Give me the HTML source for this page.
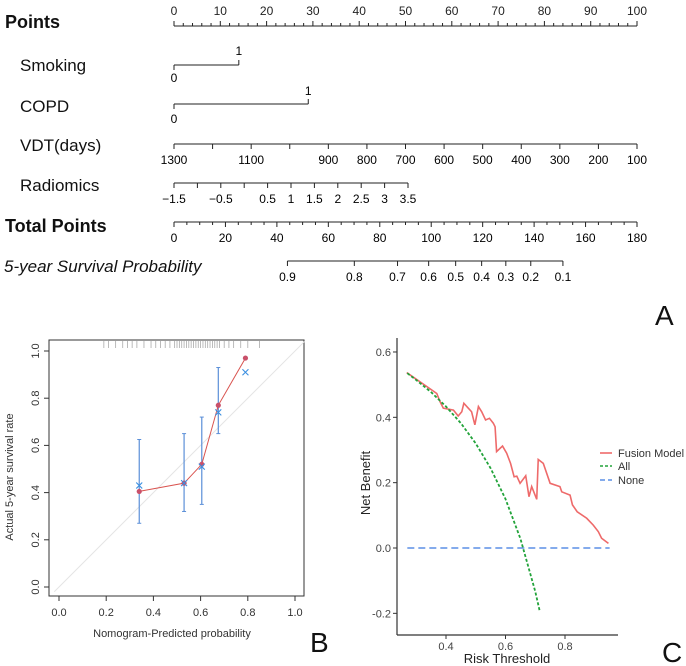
<!DOCTYPE html>
<html><head><meta charset="utf-8"><style>
html,body{margin:0;padding:0;background:#fff;}
svg{display:block;font-family:"Liberation Sans",sans-serif;}
</style></head><body>
<svg id="fig" width="686" height="666" viewBox="0 0 686 666"></svg>
<script>
// ---------- Nomogram data ----------
const pointsTicks=[0,10,20,30,40,50,60,70,80,90,100];
const smokingPts=[0,14];
const copdPts=[0,29];
const vdtLabels=[1300,1100,900,800,700,600,500,400,300,200,100];
const vdtTicks=[1300,1200,1100,1000,900,800,700,600,500,400,300,200,100];
const radTicks=[-1.5,-1,-0.5,0,0.5,1,1.5,2,2.5,3,3.5];
const radLabels=[-1.5,-0.5,0.5,1,1.5,2,2.5,3,3.5];
const totalTicks=[0,20,40,60,80,100,120,140,160,180];
const survProb=[0.9,0.8,0.7,0.6,0.5,0.4,0.3,0.2,0.1];
const survTotal=[44.1,70.1,86.9,99,109.5,119.6,129,138.7,151.2];
// ---------- Calibration data ----------
const calPred=[0.34,0.53,0.605,0.675,0.79];
const calApparent=[0.405,0.44,0.52,0.77,0.97];
const calBias=[0.43,0.44,0.51,0.74,0.91];
const calLow=[0.27,0.32,0.35,0.65];
const calHigh=[0.625,0.65,0.72,0.93];
const rugVals=[0.19,0.21,0.24,0.27,0.29,0.31,0.33,0.36,0.39,0.41,0.43,0.45,0.47,0.49,0.5,0.51,0.52,0.53,0.54,0.55,0.56,0.57,0.58,0.59,0.6,0.61,0.62,0.63,0.64,0.65,0.66,0.67,0.68,0.7,0.72,0.74,0.77,0.8,0.85];
const calTicks=[0,0.2,0.4,0.6,0.8,1.0];
// ---------- DCA data ----------
const fusT=[0.268,0.369,0.380,0.391,0.425,0.441,0.453,0.460,0.475,0.486,0.497,0.509,0.520,0.533,0.546,0.559,0.565,0.570,0.590,0.604,0.617,0.629,0.638,0.649,0.668,0.679,0.688,0.705,0.710,0.727,0.750,0.783,0.789,0.817,0.825,0.841,0.873,0.895,0.912,0.923,0.946];
const fusNB=[0.537,0.473,0.448,0.428,0.422,0.404,0.417,0.443,0.428,0.417,0.377,0.433,0.417,0.392,0.397,0.382,0.371,0.295,0.312,0.290,0.259,0.218,0.220,0.198,0.221,0.157,0.188,0.149,0.271,0.259,0.198,0.188,0.172,0.162,0.132,0.111,0.091,0.070,0.050,0.030,0.014];
const allT=[0.27,0.3,0.35,0.4,0.45,0.5,0.55,0.6,0.65,0.7,0.715];
const allNB=[0.535,0.514,0.477,0.433,0.382,0.32,0.244,0.15,0.029,-0.133,-0.193];
const noneT=[0.27,0.95];
const noneNB=[0,0];
const dcaYTicks=[-0.2,0,0.2,0.4,0.6];
const dcaXTicks=[0.4,0.6,0.8];

const NS="http://www.w3.org/2000/svg";
const svg=document.getElementById('fig');
function mk(tag,attrs,parent){const e=document.createElementNS(NS,tag);for(const k in attrs)e.setAttribute(k,attrs[k]);(parent||svg).appendChild(e);return e;}
function txt(s,x,y,attrs,parent){const e=mk('text',Object.assign({x:x,y:y},attrs||{}),parent);e.textContent=s;return e;}

// ---------- Nomogram ----------
const nomo=mk('g',{});


const px=p=>174+p*4.63;
const tpx=t=>174+t/180*463;
const vdtx=v=>174+(1300-v)/1200*463;
const radx=r=>174+(r+1.5)/5*234;
const ln={stroke:'#222','stroke-width':1,fill:'none'};
function rowLabel(s,x,y,name,extra){const e=txt(s,x,y,Object.assign({'font-size':17,fill:'#111'},extra||{}),nomo);return e;}
rowLabel('Points',5,28,'points-label',{'font-weight':'bold','font-size':18});
mk('line',Object.assign({x1:px(0),x2:px(100),y1:26,y2:26},ln),nomo);
for(let p=0;p<=100;p+=2){mk('line',Object.assign({x1:px(p),x2:px(p),y1:26,y2:p%10===0?21:23},ln),nomo);}
pointsTicks.forEach(p=>{const t=txt(p,px(p),15,{'font-size':12,'text-anchor':'middle',fill:'#222'},nomo);});
rowLabel('Smoking',20,71,'smoking-label');
mk('line',Object.assign({x1:px(smokingPts[0]),x2:px(smokingPts[1]),y1:65,y2:65},ln),nomo);
mk('line',Object.assign({x1:px(smokingPts[0]),x2:px(smokingPts[0]),y1:65,y2:70},ln),nomo);
mk('line',Object.assign({x1:px(smokingPts[1]),x2:px(smokingPts[1]),y1:65,y2:60},ln),nomo);
txt('1',px(smokingPts[1]),55,{'font-size':12,'text-anchor':'middle'},nomo);
txt('0',px(smokingPts[0]),82,{'font-size':12,'text-anchor':'middle'},nomo);
rowLabel('COPD',20,112,'copd-label');
mk('line',Object.assign({x1:px(copdPts[0]),x2:px(copdPts[1]),y1:104,y2:104},ln),nomo);
mk('line',Object.assign({x1:px(copdPts[0]),x2:px(copdPts[0]),y1:104,y2:109},ln),nomo);
mk('line',Object.assign({x1:px(copdPts[1]),x2:px(copdPts[1]),y1:104,y2:99},ln),nomo);
txt('1',px(copdPts[1]),95,{'font-size':12,'text-anchor':'middle'},nomo);
txt('0',px(copdPts[0]),123,{'font-size':12,'text-anchor':'middle'},nomo);
rowLabel('VDT(days)',20,151,'vdt-label');
mk('line',Object.assign({x1:vdtx(1300),x2:vdtx(100),y1:144,y2:144},ln),nomo);
vdtTicks.forEach(v=>mk('line',Object.assign({x1:vdtx(v),x2:vdtx(v),y1:144,y2:149},ln),nomo));
vdtLabels.forEach(v=>txt(v,vdtx(v),164,{'font-size':12,'text-anchor':'middle'},nomo));
rowLabel('Radiomics',20,191,'radiomics-label');
mk('line',Object.assign({x1:radx(-1.5),x2:radx(3.5),y1:183,y2:183},ln),nomo);
radTicks.forEach(r=>mk('line',Object.assign({x1:radx(r),x2:radx(r),y1:183,y2:188},ln),nomo));
radLabels.forEach(r=>txt(r<0?'\u2212'+Math.abs(r):String(r),radx(r),203,{'font-size':12,'text-anchor':'middle'},nomo));
rowLabel('Total Points',5,232,'total-points-label',{'font-weight':'bold','font-size':18});
mk('line',Object.assign({x1:tpx(0),x2:tpx(180),y1:222,y2:222},ln),nomo);
for(let t=0;t<=180;t+=5){mk('line',Object.assign({x1:tpx(t),x2:tpx(t),y1:222,y2:t%20===0?227:225},ln),nomo);}
totalTicks.forEach(t=>txt(t,tpx(t),242,{'font-size':12,'text-anchor':'middle'},nomo));
rowLabel('5-year Survival Probability',4,272,'survival-probability-label',{'font-style':'italic'});
mk('line',Object.assign({x1:tpx(survTotal[0]),x2:tpx(survTotal[survTotal.length-1]),y1:261,y2:261},ln),nomo);
survTotal.forEach((t,i)=>{mk('line',Object.assign({x1:tpx(t),x2:tpx(t),y1:261,y2:266},ln),nomo);txt(survProb[i],tpx(t),281,{'font-size':12,'text-anchor':'middle'},nomo);});
const la=txt('A',655,325,{'font-size':28,fill:'#111'});


// ---------- Calibration ----------
const cal=mk('g',{});


const cx=v=>59+v*236, cy=v=>587-v*236;
mk('rect',{x:49,y:340,width:255,height:256,fill:'none',stroke:'#333','stroke-width':1},cal);
mk('line',{x1:cx(-0.02),y1:cy(-0.02),x2:cx(1.04),y2:cy(1.04),stroke:'#e4e4e4','stroke-width':1},cal);
calTicks.forEach(v=>{
 mk('line',{x1:cx(v),x2:cx(v),y1:596,y2:601,stroke:'#333'},cal);
 txt(v.toFixed(1),cx(v),616,{'font-size':11,'text-anchor':'middle',fill:'#333'},cal);
 mk('line',{x1:49,x2:44,y1:cy(v),y2:cy(v),stroke:'#333'},cal);
 txt(v.toFixed(1),35,cy(v),{'font-size':11,'text-anchor':'middle',fill:'#333',transform:`rotate(-90 35 ${cy(v)})`,dy:4},cal);
});
const cxt=txt('Nomogram-Predicted probability',172,637,{'font-size':11,'text-anchor':'middle',fill:'#333'},cal);

const cyt=txt('Actual 5-year survival rate',13,477,{'font-size':11,'text-anchor':'middle',fill:'#333',transform:'rotate(-90 13 477)'},cal);

rugVals.forEach(v=>mk('line',{x1:cx(v),x2:cx(v),y1:341,y2:348,stroke:'#aaa','stroke-width':0.8},cal));
calLow.forEach((l,i)=>{const x=cx(calPred[i]);
 mk('line',{x1:x,x2:x,y1:cy(l),y2:cy(calHigh[i]),stroke:'#5b8fd8','stroke-width':1.2},cal);
 mk('line',{x1:x-2,x2:x+2,y1:cy(l),y2:cy(l),stroke:'#5b8fd8'},cal);
 mk('line',{x1:x-2,x2:x+2,y1:cy(calHigh[i]),y2:cy(calHigh[i]),stroke:'#5b8fd8'},cal);});
mk('polyline',{points:calPred.map((p,i)=>cx(p)+','+cy(calApparent[i])).join(' '),fill:'none',stroke:'#d9534f','stroke-width':1},cal);
calPred.forEach((p,i)=>{const d=mk('circle',{cx:cx(p),cy:cy(calApparent[i]),r:2.6,fill:'#c9506a'},cal);
 
 const x=cx(p),y=cy(calBias[i]);
 mk('path',{d:`M${x-3} ${y-3}L${x+3} ${y+3}M${x-3} ${y+3}L${x+3} ${y-3}`,stroke:'#3a8fe0','stroke-width':1.1},cal);});
const lb=txt('B',310,652,{'font-size':28,fill:'#111'});


// ---------- DCA ----------
const dca=mk('g',{});


const dx=t=>327+t*297.5, dy=v=>548-v*326.7;
mk('line',{x1:397,x2:397,y1:338,y2:635,stroke:'#333','stroke-width':1.2},dca);
mk('line',{x1:397,x2:618,y1:635,y2:635,stroke:'#333','stroke-width':1.2},dca);
dcaYTicks.forEach(v=>{mk('line',{x1:393,x2:397,y1:dy(v),y2:dy(v),stroke:'#333'},dca);
 txt(v.toFixed(1),391,dy(v)+4,{'font-size':11,'text-anchor':'end',fill:'#444'},dca);});
dcaXTicks.forEach(v=>{mk('line',{x1:dx(v),x2:dx(v),y1:635,y2:639,stroke:'#333'},dca);
 txt(v.toFixed(1),dx(v),650,{'font-size':11,'text-anchor':'middle',fill:'#444'},dca);});
const dxt=txt('Risk Threshold',507,663,{'font-size':13,'text-anchor':'middle',fill:'#222'},dca);

const dyt=txt('Net Benefit',370,483,{'font-size':13,'text-anchor':'middle',fill:'#222',transform:'rotate(-90 370 483)'},dca);

const noneL=mk('polyline',{points:noneT.map((t,i)=>dx(t)+','+dy(noneNB[i])).join(' '),fill:'none',stroke:'#5b8fe6','stroke-width':1.6,'stroke-dasharray':'7,4'},dca);

const fusL=mk('polyline',{points:fusT.map((t,i)=>dx(t)+','+dy(fusNB[i])).join(' '),fill:'none',stroke:'#ee6a6a','stroke-width':1.6},dca);

const allL=mk('polyline',{points:allT.map((t,i)=>dx(t)+','+dy(allNB[i])).join(' '),fill:'none',stroke:'#22a33a','stroke-width':1.8,'stroke-dasharray':'3,2'},dca);

const leg=mk('g',{},dca);


[['Fusion Model','#ee6a6a','none',453],['All','#22a33a','3,2',466],['None','#5b8fe6','5,3',480]].forEach(r=>{
 const g=mk('g',{},leg);
 
 
 mk('line',{x1:600,x2:612,y1:r[3],y2:r[3],stroke:r[1],'stroke-width':1.6,'stroke-dasharray':r[2]},g);
 txt(r[0],618,r[3]+4,{'font-size':11,fill:'#333'},g);});
const lc=txt('C',662,662,{'font-size':28,fill:'#111'});

</script>
</body></html>
